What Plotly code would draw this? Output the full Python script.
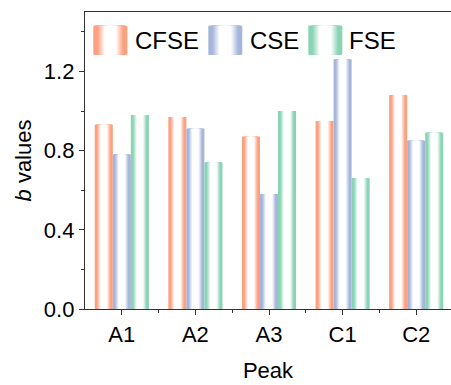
import plotly.graph_objects as go

categories = ["A1", "A2", "A3", "C1", "C2"]
series_names = ["CFSE", "CSE", "FSE"]
cfse = [0.93, 0.97, 0.87, 0.95, 1.08]
cse = [0.78, 0.91, 0.58, 1.26, 0.85]
fse = [0.98, 0.74, 1.00, 0.66, 0.89]
y_ticks = [0.0, 0.4, 0.8, 1.2]

series_values = [cfse, cse, fse]
colors = [(253, 160, 128), (166, 181, 219), (138, 212, 182)]

FONT = "Arial, Liberation Sans, sans-serif"
W, H = 451, 385
ML, MR, MT, MB = 85, 0, 12, 76
PW, PH = W - ML - MR, H - MT - MB
px_per_cat = 73.6
x_left = -0.5
x_right = x_left + PW / px_per_cat

bar_w = 0.245
N = 16


def mix(c, t):
    # t = fraction of colour (1 -> full colour, 0 -> white)
    r, g, b = (round(255 + (ci - 255) * t) for ci in c)
    return f"rgb({r},{g},{b})"


def profile(d):
    # d: normalised distance from centre (0 centre, 1 edge)
    t = (d - 0.33) / 0.42
    return max(0.0, min(1.0, t))


fig = go.Figure()
xs = list(range(len(categories)))
for si, (name, vals, col) in enumerate(zip(series_names, series_values, colors)):
    centre = (si - 1) * bar_w
    for k in range(N):
        frac = 1 - k / N
        wk = bar_w * frac
        d = frac - 0.5 / N
        fig.add_trace(go.Bar(
            x=xs, y=vals, name=name,
            width=wk, offset=centre - wk / 2,
            marker=dict(color=mix(col, profile(d)), line=dict(width=0)),
            showlegend=False, hoverinfo="skip" if k else None,
        ))

# manual legend with gradient swatches
def to_px_x(px):
    return (px - ML) / PW


def to_px_y(py):
    return (H - MB - py) / PH


shapes = []
annotations = []
sw_x = [93.3, 208.3, 308.3]
tx_x = [135, 250, 349.3]
sw_w, sw_top, sw_bot = 34, 25.7, 54.7
for i, name in enumerate(series_names):
    cx = sw_x[i] + sw_w / 2
    for k in range(N):
        frac = 1 - k / N
        hw = sw_w * frac / 2
        d = frac - 0.5 / N
        shapes.append(dict(
            type="rect", xref="paper", yref="paper",
            x0=to_px_x(cx - hw), x1=to_px_x(cx + hw),
            y0=to_px_y(sw_bot), y1=to_px_y(sw_top),
            fillcolor=mix(colors[i], profile(d)), line=dict(width=0), layer="above",
        ))
    annotations.append(dict(
        x=to_px_x(tx_x[i] - 2), y=to_px_y((sw_top + sw_bot) / 2),
        xref="paper", yref="paper", xanchor="left", yanchor="middle",
        text=name, showarrow=False, font=dict(size=24, color="black", family=FONT),
    ))

axis_col = "#333333"
fig.update_layout(
    width=W, height=H,
    margin=dict(l=ML, r=MR, t=MT, b=MB, pad=0),
    paper_bgcolor="white", plot_bgcolor="white",
    barmode="overlay",
    showlegend=False,
    font=dict(family=FONT, color="black"),
    shapes=shapes, annotations=annotations,
    xaxis=dict(
        range=[x_left, x_right],
        tickmode="array", tickvals=xs, ticktext=categories,
        ticks="outside", ticklen=5, tickwidth=1.2, tickcolor=axis_col,
        minor=dict(tickmode="array", tickvals=[i + 0.5 for i in xs[:-1]],
                   ticks="outside", ticklen=3, tickwidth=1.2, tickcolor=axis_col),
        showline=True, linecolor=axis_col, linewidth=1.3, mirror=True,
        showgrid=False, zeroline=False,
        tickfont=dict(size=22, family=FONT, color="black"),
        title=dict(text="Peak", font=dict(size=22, family=FONT, color="black"), standoff=17),
    ),
    yaxis=dict(
        range=[0, 1.5],
        tickmode="array", tickvals=y_ticks, tickformat=".1f",
        ticks="outside", ticklen=5, tickwidth=1.2, tickcolor=axis_col,
        minor=dict(tickmode="array", tickvals=[0.2, 0.6, 1.0, 1.4],
                   ticks="outside", ticklen=3, tickwidth=1.2, tickcolor=axis_col),
        showline=True, linecolor=axis_col, linewidth=1.3,
        showgrid=False, zeroline=False,
        tickfont=dict(size=22, family=FONT, color="black"),
        title=dict(text="<i>b</i> values", font=dict(size=22, family=FONT, color="black"), standoff=6),
    ),
)

fig.write_html("out.html")
